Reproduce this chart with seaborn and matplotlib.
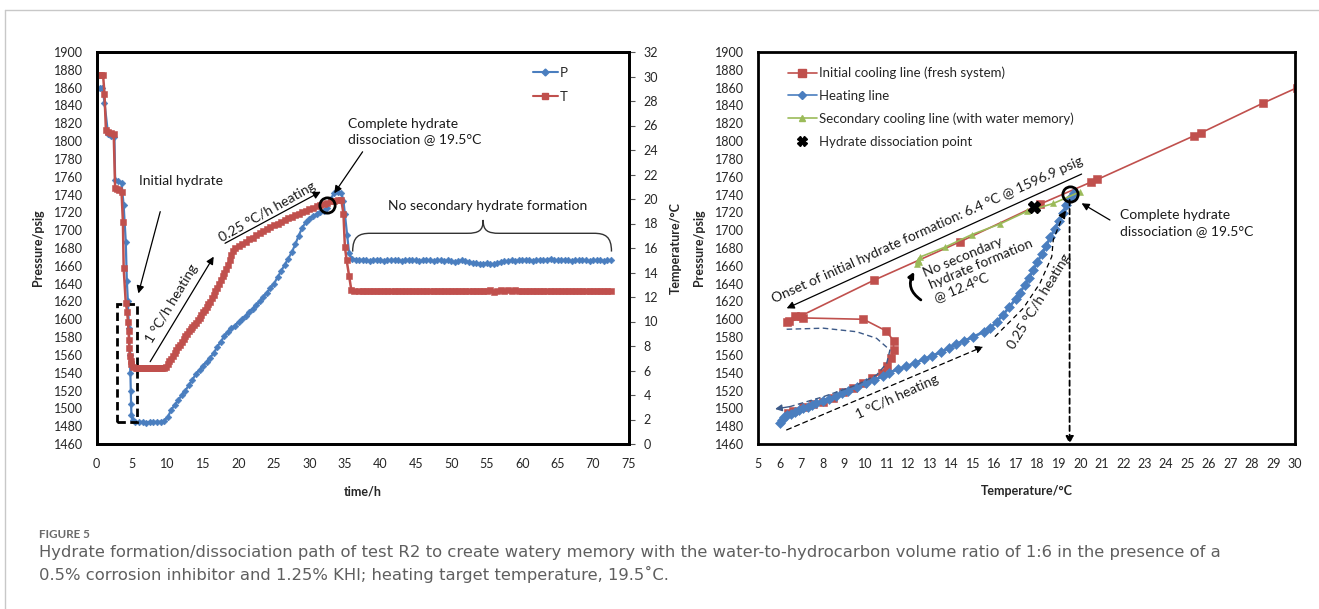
import matplotlib
matplotlib.use("Agg")
import matplotlib.pyplot as plt
import seaborn as sns
from matplotlib.lines import Line2D
from matplotlib.patches import Rectangle, FancyArrowPatch, PathPatch
from matplotlib.path import Path

# ---------------- left panel: pressure (psig) against time (h) ----------------
# initial cooling and hydrate formation
time_P_drop = [0, 0.4, 0.8, 1.1, 1.6, 2.0, 2.5, 2.6, 3.0, 3.5,
               3.8, 4.1, 4.25, 4.4, 4.55, 4.65, 4.75, 4.8, 4.85, 4.9,
               5.1, 5.4]
P_drop = [1859, 1860, 1860, 1843, 1808, 1806, 1805, 1756, 1755, 1753,
          1728, 1687, 1643, 1620, 1590, 1560, 1540, 1520, 1505, 1492,
          1487, 1485]
# hold and heating
time_P_heat = [6.0, 6.5, 7.0, 7.5, 8.0, 8.5, 9.0, 9.5, 10.0, 10.5,
               11.0, 11.5, 12.0, 12.5, 13.0, 13.5, 14.0, 14.5, 15.0, 15.5,
               16.0, 16.5, 17.0, 17.5, 18.0, 18.5, 19.0, 19.5, 20.0, 20.5,
               21.0, 21.5, 22.0, 22.5, 23.0, 23.5, 24.0, 24.5, 25.0, 25.5,
               26.0, 26.5, 27.0, 27.5, 28.0, 28.5, 29.0, 29.5, 30.0, 30.5,
               31.0, 31.5, 32.0, 32.5, 33.0, 33.5, 34.0, 34.5]
P_heat = [1484.5, 1485, 1484, 1485, 1484.5, 1485, 1485, 1486, 1490, 1498,
          1504, 1509, 1515, 1520, 1526, 1532, 1539, 1543, 1548, 1552,
          1557, 1562, 1569, 1575, 1581, 1586, 1590, 1593, 1597, 1600,
          1604, 1608, 1612, 1616, 1620, 1625, 1630, 1635, 1640, 1647,
          1654, 1661, 1668, 1675, 1684, 1694, 1703, 1709, 1713, 1716,
          1718, 1720, 1722, 1725, 1735, 1742, 1743, 1742]
# secondary cooling and settled period
time_P_settle = [34.8, 35.0, 35.3, 35.6,
                 36.0, 36.5, 37.0, 37.5, 38.0, 38.5, 39.0, 39.5, 40.0, 40.5,
                 41.0, 41.5, 42.0, 42.5, 43.0, 43.5, 44.0, 44.5, 45.0, 45.5,
                 46.0, 46.5, 47.0, 47.5, 48.0, 48.5, 49.0, 49.5, 50.0, 50.5,
                 51.0, 51.5, 52.0, 52.5, 53.0, 53.5, 54.0, 54.5, 55.0, 55.5,
                 56.0, 56.5, 57.0, 57.5, 58.0, 58.5, 59.0, 59.5, 60.0, 60.5,
                 61.0, 61.5, 62.0, 62.5, 63.0, 63.5, 64.0, 64.5, 65.0, 65.5,
                 66.0, 66.5, 67.0, 67.5, 68.0, 68.5, 69.0, 69.5, 70.0, 70.5,
                 71.0, 71.5, 72.0, 72.5]
P_settle = [1733, 1718, 1695, 1674,
            1668, 1667, 1666, 1667, 1666, 1665, 1666, 1667, 1666, 1665,
            1666, 1666, 1667, 1666, 1665, 1666, 1667, 1666, 1666, 1665,
            1666, 1667, 1666, 1665, 1666, 1666, 1665, 1666, 1665, 1664,
            1665, 1666, 1665, 1664, 1663, 1663, 1662, 1662, 1663, 1662,
            1662, 1663, 1664, 1665, 1665, 1666, 1665, 1666, 1666, 1667,
            1666, 1665, 1666, 1667, 1666, 1667, 1668, 1667, 1666, 1666,
            1667, 1666, 1665, 1666, 1666, 1667, 1666, 1665, 1666, 1666,
            1666, 1665, 1666, 1666]

# ---------------- left panel: temperature (°C) against time (h) ----------------
time_T_drop = [0, 0.3, 0.6, 0.9, 1.1, 1.3, 1.6, 2.0, 2.4, 2.6,
               2.9, 3.2, 3.5, 3.7, 3.8, 4.1, 4.3, 4.4, 4.5, 4.55,
               4.6, 4.7, 4.8, 4.9, 5.1, 5.5]
T_drop = [30.1, 30.1, 30.1, 30.1, 28.6, 25.6, 25.5, 25.4, 25.3, 20.9,
          20.8, 20.7, 20.6, 18.1, 14.4, 11.5, 10.8, 10.0, 9.2, 8.5,
          7.8, 7.2, 6.8, 6.5, 6.3, 6.2]
time_T_hold = [5.75, 6.0, 6.25, 6.5, 6.75, 7.0, 7.25, 7.5, 7.75, 8.0,
               8.25, 8.5, 8.75, 9.0, 9.25, 9.5]
T_hold = [6.2, 6.2, 6.2, 6.2, 6.2, 6.2, 6.2, 6.2, 6.2, 6.2,
          6.2, 6.2, 6.2, 6.2, 6.2, 6.2]
time_T_fast = [9.75, 10.0, 10.25, 10.5, 10.75, 11.0, 11.25, 11.5, 11.75, 12.0,
               12.25, 12.5, 12.75, 13.0, 13.25, 13.5, 13.75, 14.0, 14.25, 14.5,
               14.75, 15.0, 15.25, 15.5, 15.75, 16.0, 16.25, 16.5, 16.75, 17.0,
               17.25, 17.5, 17.75, 18.0, 18.25, 18.5, 18.75, 19.0, 19.25, 19.5]
T_fast = [6.3, 6.5, 6.75, 6.95, 7.2, 7.4, 7.65, 7.9, 8.1, 8.35,
          8.6, 8.8, 9.0, 9.2, 9.35, 9.55, 9.75, 9.9, 10.1, 10.3,
          10.5, 10.75, 10.95, 11.15, 11.4, 11.6, 11.9, 12.15, 12.45, 12.75,
          13.05, 13.4, 13.7, 14.0, 14.3, 14.65, 15.0, 15.4, 15.75, 16.0]
time_T_slow = [20.0, 20.5, 21.0, 21.5, 22.0, 22.5, 23.0, 23.5, 24.0, 24.5,
               25.0, 25.5, 26.0, 26.5, 27.0, 27.5, 28.0, 28.5, 29.0, 29.5,
               30.0, 30.5, 31.0, 31.5, 32.0, 32.5, 33.0, 33.5, 34.0, 34.5]
T_slow = [16.15, 16.35, 16.5, 16.7, 16.85, 17.05, 17.2, 17.4, 17.55, 17.7,
          17.85, 18.0, 18.15, 18.3, 18.45, 18.55, 18.7, 18.8, 18.95, 19.05,
          19.2, 19.3, 19.4, 19.5, 19.6, 19.7, 19.8, 19.85, 19.9, 19.9]
time_T_settle = [34.8, 35.0, 35.25, 35.6, 35.9, 36.3,
                 37.0, 37.5, 38.0, 38.5, 39.0, 39.5, 40.0, 40.5, 41.0, 41.5,
                 42.0, 42.5, 43.0, 43.5, 44.0, 44.5, 45.0, 45.5, 46.0, 46.5,
                 47.0, 47.5, 48.0, 48.5, 49.0, 49.5, 50.0, 50.5, 51.0, 51.5,
                 52.0, 52.5, 53.0, 53.5, 54.0, 54.5, 55.0, 55.5, 56.0, 56.5,
                 57.0, 57.5, 58.0, 58.5, 59.0, 59.5, 60.0, 60.5, 61.0, 61.5,
                 62.0, 62.5, 63.0, 63.5, 64.0, 64.5, 65.0, 65.5, 66.0, 66.5,
                 67.0, 67.5, 68.0, 68.5, 69.0, 69.5, 70.0, 70.5, 71.0, 71.5,
                 72.0, 72.5]
T_settle = [18.8, 16.1, 15.0, 13.7, 12.6, 12.5,
            12.45, 12.45, 12.45, 12.45, 12.45, 12.45, 12.45, 12.45, 12.45, 12.45,
            12.45, 12.45, 12.45, 12.45, 12.45, 12.45, 12.45, 12.45, 12.45, 12.45,
            12.45, 12.45, 12.45, 12.45, 12.45, 12.45, 12.45, 12.45, 12.45, 12.45,
            12.45, 12.45, 12.45, 12.45, 12.45, 12.45, 12.45, 12.6, 12.4, 12.45,
            12.55, 12.5, 12.55, 12.5, 12.55, 12.5, 12.45, 12.45, 12.45, 12.45,
            12.45, 12.45, 12.45, 12.45, 12.45, 12.45, 12.45, 12.45, 12.45, 12.45,
            12.45, 12.45, 12.45, 12.45, 12.45, 12.45, 12.45, 12.45, 12.45, 12.45,
            12.45, 12.45]

# ---------------- right panel: pressure against temperature ----------------
cool_T = [30.1, 28.5, 25.6, 25.3, 20.8, 20.5, 18.1, 14.4, 10.4, 7.0,
          6.7, 6.45, 6.35, 7.1, 9.9, 10.95, 11.3, 11.3, 11.2, 11.0,
          10.75, 10.3, 9.9, 9.4, 8.96, 8.5, 8.0, 7.55, 7.1, 6.6,
          6.4]
cool_P = [1860, 1842.5, 1809, 1806, 1757, 1754, 1729, 1687, 1644, 1604,
          1604, 1598, 1597, 1601.5, 1600, 1587, 1576, 1565.5, 1556, 1547.6,
          1540, 1534, 1528, 1523, 1518.7, 1512, 1507.5, 1505, 1502, 1497,
          1495]

heat_T = [6.0, 6.1, 6.2, 6.35, 6.5, 6.7, 6.9, 7.1, 7.3, 7.5,
          7.7, 8.0, 8.3, 8.6, 8.9, 9.2, 9.6, 10.0, 10.4, 10.8,
          11.1, 11.5, 11.9, 12.3, 12.7, 13.1, 13.5, 13.9, 14.2, 14.6,
          15.0, 15.5, 15.8, 16.1, 16.4, 16.7, 17.0, 17.2, 17.4, 17.6,
          17.8, 18.0, 18.2, 18.4, 18.6, 18.8, 19.0, 19.2, 19.35, 19.5,
          19.7]
heat_P = [1484, 1487, 1490, 1492, 1494, 1496, 1498, 1500, 1502, 1504,
          1506, 1508.5, 1511, 1514, 1517, 1520, 1524, 1528, 1532, 1536,
          1540, 1544, 1547, 1551, 1555, 1559, 1563, 1568, 1572, 1576,
          1580, 1586, 1590, 1597, 1605, 1614, 1623, 1630, 1638, 1646,
          1655, 1664, 1673, 1682, 1692, 1701, 1710, 1719, 1728, 1736,
          1742]

recool_T = [19.98, 18.74, 17.5, 16.26, 14.94, 13.7, 12.55, 12.45, 12.4, 12.5, 12.45]
recool_P = [1743, 1730, 1721, 1707, 1695, 1681, 1670, 1665, 1662, 1664, 1667]

dissoc_T = [17.84]
dissoc_P = [1726]

loop_guide_T = [6.32, 8.03, 9.58, 10.51, 11.13, 10.98, 10.51, 9.58, 8.03, 6.48, 5.78]
loop_guide_P = [1588.8, 1590, 1586, 1578.6, 1565.5, 1550.6, 1537.5, 1526.3, 1513.1,
                1502, 1499.3]

slow_guide_T = [16.02, 17.34, 18.12, 18.67, 18.74, 19.2, 19.33]
slow_guide_P = [1580.5, 1612.3, 1640.4, 1670.3, 1689, 1717, 1721.9]

complete_T = 19.5
complete_time = 32.5

x_ticks_left = list(range(0, 80, 5))
p_ticks = list(range(1460, 1901, 20))
t_ticks = list(range(0, 33, 2))
x_ticks_right = list(range(5, 31, 1))

time_P = time_P_drop + time_P_heat + time_P_settle
pressure_P = P_drop + P_heat + P_settle
time_T = time_T_drop + time_T_hold + time_T_fast + time_T_slow + time_T_settle
temp_T = T_drop + T_hold + T_fast + T_slow + T_settle

BLUE = "#4a7ebf"
RED = "#c0504d"
GREEN = "#9bbb59"
GUIDE = "#3d5a88"
TICK = "#262626"

sns.set_theme(style="white")
plt.rcParams["font.family"] = ["Lato", "DejaVu Sans"]

fig = plt.figure(figsize=(13.19, 6.09), dpi=100)
W, H = 1319.0, 609.0


def frame(x0, y0, x1, y1):
    return [x0 / W, 1 - y1 / H, (x1 - x0) / W, (y1 - y0) / H]


ax1 = fig.add_axes(frame(96.7, 52, 628.5, 444))
ax1t = ax1.twinx()
ax2 = fig.add_axes(frame(758.3, 52, 1295, 444))

# ---- left panel series ----
sns.lineplot(x=time_P, y=pressure_P, ax=ax1, color=BLUE, lw=1.6, marker="D",
             markersize=3.4, markeredgecolor=BLUE, markeredgewidth=0.4,
             sort=False, estimator=None)
sns.lineplot(x=time_T, y=temp_T, ax=ax1t, color=RED, lw=1.8, marker="s",
             markersize=4.3, markeredgecolor=RED, markeredgewidth=0.4,
             sort=False, estimator=None)

ax1.set_xlim(0, 75)
ax1.set_ylim(1460, 1900)
ax1.set_xticks(x_ticks_left)
ax1.set_yticks(p_ticks)
ax1t.set_ylim(0, 32)
ax1t.set_yticks(t_ticks)

# ---- right panel series ----
sns.lineplot(x=cool_T, y=cool_P, ax=ax2, color=RED, lw=1.2, marker="s",
             markersize=5.5, markeredgecolor=RED, markeredgewidth=0.4,
             sort=False, estimator=None)
sns.lineplot(x=heat_T, y=heat_P, ax=ax2, color=BLUE, lw=2.0, marker="D",
             markersize=4.6, markeredgecolor=BLUE, markeredgewidth=0.4,
             sort=False, estimator=None)
sns.lineplot(x=recool_T, y=recool_P, ax=ax2, color=GREEN, lw=1.2, marker="^",
             markersize=5, markeredgecolor=GREEN, markeredgewidth=0.4,
             sort=False, estimator=None)
ax2.plot(dissoc_T, dissoc_P, ls="none", marker="X", ms=8, color="black", mec="black",
         zorder=6)
ax2.set_xlim(5, 30)
ax2.set_ylim(1460, 1900)
ax2.set_xticks(x_ticks_right)
ax2.set_yticks(p_ticks)

# ---- axis styling ----
for a in (ax1, ax1t, ax2):
    for s in a.spines.values():
        s.set_color("black")
        s.set_linewidth(2.0)
    a.grid(False)
    a.set_xlabel("")
    a.set_ylabel("")

ax1.tick_params(axis="x", direction="in", length=4, width=0.8, colors="#555",
                labelcolor=TICK, labelsize=9, pad=10, top=False)
ax1.tick_params(axis="y", length=0, labelcolor=TICK, labelsize=9, pad=10)
ax1t.tick_params(axis="y", direction="out", length=4, width=0.8, colors="#555",
                 labelcolor=TICK, labelsize=9, pad=7)
ax2.tick_params(axis="x", direction="in", length=4, width=0.8, colors="#555",
                labelcolor=TICK, labelsize=9, pad=10)
ax2.tick_params(axis="y", length=0, labelcolor=TICK, labelsize=9, pad=10)

lab = dict(fontsize=9, fontweight="bold", color=TICK)
ax1.set_ylabel("Pressure/psig", **lab)
ax1.yaxis.set_label_coords(-0.1, 0.5)
ax1t.set_ylabel("Temperature/°C", **lab)
ax1t.yaxis.set_label_coords(1.078, 0.5)
ax1.set_xlabel("time/h", **lab)
ax1.xaxis.set_label_coords(0.5, -0.105)
ax2.set_ylabel("Pressure/psig", **lab)
ax2.yaxis.set_label_coords(-0.1, 0.5)
ax2.set_xlabel("Temperature/°C", **lab)
ax2.xaxis.set_label_coords(0.5, -0.105)

# ---- legends ----
h_p = Line2D([], [], color=BLUE, lw=1.5, marker="D", ms=3.5, mec=BLUE)
h_t = Line2D([], [], color=RED, lw=1.5, marker="s", ms=4.5, mec=RED)
ax1t.legend([h_p, h_t], ["P", "T"], loc="upper left",
            bbox_to_anchor=(0.82, 0.962), frameon=False, fontsize=9.5,
            handlelength=1.9, handletextpad=0.15, labelspacing=0.92,
            borderaxespad=0, borderpad=0)

h_c = Line2D([], [], color=RED, lw=1.2, marker="s", ms=5.5, mec=RED)
h_h = Line2D([], [], color=BLUE, lw=1.2, marker="D", ms=4, mec=BLUE)
h_g = Line2D([], [], color=GREEN, lw=1.2, marker="^", ms=5, mec=GREEN)
h_x = Line2D([], [], ls="none", marker="X", ms=7, color="black")
ax2.legend([h_c, h_h, h_g, h_x],
           ["Initial cooling line (fresh system)", "Heating line",
            "Secondary cooling line (with water memory)", "Hydrate dissociation point"],
           loc="upper left", bbox_to_anchor=(0.055, 0.962), frameon=False,
           fontsize=9.5, handlelength=2.2, handletextpad=0.15, labelspacing=0.8,
           borderaxespad=0, borderpad=0)

# ---- left panel annotations (pressure-axis data coordinates) ----
txt = dict(fontsize=10, color="#1a1a1a")
arrow = dict(arrowstyle="-|>", color="black", lw=0.9, mutation_scale=11,
             shrinkA=0, shrinkB=0)

ax1.text(11.9, 1755, "Initial hydrate", ha="center", va="center", **txt)
ax1.annotate("", xy=(5.88, 1629), xytext=(8.96, 1720.8), arrowprops=arrow)
ax1.add_patch(Rectangle((2.83, 1484.4), 2.83, 132.4, fill=False, ls=(0, (3, 1.6)),
                        lw=2.0, ec="black", zorder=5))
ax1.text(10.6, 1618, "1 °C/h heating", rotation=59, ha="center", va="center",
         rotation_mode="anchor", **txt)
ax1.annotate("", xy=(16.5, 1670.3), xytext=(7.54, 1552.4), arrowprops=arrow)
ax1.text(24.0, 1720.8, "0.25 °C/h heating", rotation=29.5, ha="center", va="center",
         rotation_mode="anchor", **txt)
ax1.annotate("", xy=(31.6, 1743.2), xytext=(18.1, 1685.3), arrowprops=arrow)
ax1t.plot([complete_time], [complete_T], ls="none", marker="o", ms=11, mfc="none",
          mec="black", mew=2.0, zorder=7)
ax1.text(35.4, 1810.8, "Complete hydrate\ndissociation @ 19.5°C", ha="left",
         va="center", linespacing=1.35, **txt)
ax1.annotate("", xy=(33.5, 1741.4), xytext=(37.5, 1788), arrowprops=arrow)
ax1.text(55.2, 1727.5, "No secondary hydrate formation", ha="center", va="center", **txt)

# curly brace over the settled section
bx0, bx1, tip = 36.1, 72.6, 54.5
y_end, y_mid, y_tip = 1676, 1696.5, 1711.5
brace = Path(
    [(bx0, y_end), (bx0, 1693), (37.0, y_mid), (38.6, y_mid),
     (52.2, y_mid),
     (53.9, y_mid), (tip, 1699.5), (tip, y_tip),
     (tip, 1699.5), (55.1, y_mid), (56.8, y_mid),
     (70.1, y_mid),
     (71.7, y_mid), (bx1, 1693), (bx1, y_end)],
    [Path.MOVETO, Path.CURVE4, Path.CURVE4, Path.CURVE4,
     Path.LINETO,
     Path.CURVE4, Path.CURVE4, Path.CURVE4,
     Path.CURVE4, Path.CURVE4, Path.CURVE4,
     Path.LINETO,
     Path.CURVE4, Path.CURVE4, Path.CURVE4])
ax1.add_patch(PathPatch(brace, fill=False, lw=1.0, ec="#333333", zorder=4))

# ---- right panel annotations ----
ax2.plot([complete_T], [1741], ls="none", marker="o", ms=11, mfc="none", mec="black",
         mew=2.0, zorder=7)
ax2.annotate("", xy=(complete_T, 1460), xytext=(complete_T, 1734),
             arrowprops=dict(arrowstyle="-|>", color="black", lw=1.3,
                             ls=(0, (3, 2)), mutation_scale=11, shrinkA=0, shrinkB=0))
ax2.text(21.85, 1708, "Complete hydrate\ndissociation @ 19.5°C", ha="left",
         va="center", linespacing=1.35, **txt)
ax2.annotate("", xy=(20.06, 1730.2), xytext=(21.38, 1711.4), arrowprops=arrow)

ax2.text(12.86, 1700, "Onset of initial hydrate formation: 6.4 °C @ 1596.9 psig",
         rotation=24.2, rotation_mode="anchor", ha="center", va="center", **txt)
ax2.annotate("", xy=(6.32, 1612.3), xytext=(20.06, 1763), arrowprops=arrow)

ax2.text(12.62, 1658, "No secondary\nhydrate formation\n@ 12.4°C", rotation=22.6,
         rotation_mode="anchor", ha="left", va="top", linespacing=1.15, **txt)
ax2.add_patch(FancyArrowPatch((12.68, 1620), (12.33, 1656),
                              connectionstyle="arc3,rad=-0.5", arrowstyle="-|>",
                              mutation_scale=8, lw=2.0, color="black", zorder=6))

ax2.plot(loop_guide_T[:-1], loop_guide_P[:-1], color=GUIDE, lw=1.0, ls=(0, (4, 2.5)))
ax2.annotate("", xy=(loop_guide_T[-1], loop_guide_P[-1]),
             xytext=(loop_guide_T[-2], loop_guide_P[-2]),
             arrowprops=dict(arrowstyle="-|>", color=GUIDE, lw=1.0,
                             mutation_scale=10, shrinkA=0, shrinkB=0))

ax2.annotate("", xy=(15.48, 1569.3), xytext=(6.32, 1475.8),
             arrowprops=dict(arrowstyle="-|>", color="black", lw=0.9,
                             ls=(0, (4, 3)), mutation_scale=11, shrinkA=0, shrinkB=0))
ax2.text(11.45, 1513, "1 °C/h heating", rotation=24.5, rotation_mode="anchor",
         ha="center", va="center", **txt)

ax2.plot(slow_guide_T[:-1], slow_guide_P[:-1], color="black", lw=0.9, ls=(0, (4, 3)))
ax2.annotate("", xy=(slow_guide_T[-1], slow_guide_P[-1]),
             xytext=(slow_guide_T[-2], slow_guide_P[-2]),
             arrowprops=dict(arrowstyle="-|>", color="black", lw=0.9,
                             mutation_scale=11, shrinkA=0, shrinkB=0))
ax2.text(18.07, 1619.8, "0.25 °C/h heating", rotation=58.6, rotation_mode="anchor",
         ha="center", va="center", **txt)

# ---- page furniture: card border and caption ----
fig.add_artist(Line2D([5 / W, 1], [1 - 10 / H, 1 - 10 / H], color="#c8c8c8", lw=1.0))
fig.add_artist(Line2D([5 / W, 5 / W], [0, 1 - 10 / H], color="#c8c8c8", lw=1.0))

fig.text(39 / W, 1 - 534 / H, "FIGURE 5", fontsize=8.4, fontweight="bold",
         family=["Lato", "DejaVu Sans"], color="#6a6a6a", ha="left", va="center")
cap = dict(family=["DejaVu Sans"], color="#5f5f5f", ha="left", va="center")
fig.text(39 / W, 1 - 553 / H,
         "Hydrate formation/dissociation path of test R2 to create watery memory with "
         "the water-to-hydrocarbon volume ratio of 1:6 in the presence of a",
         fontsize=11.8, **cap)
fig.text(39 / W, 1 - 574 / H,
         "0.5% corrosion inhibitor and 1.25% KHI; heating target temperature, 19.5˚C.",
         fontsize=11.8, **cap)

fig.savefig("out.png", dpi=100)
